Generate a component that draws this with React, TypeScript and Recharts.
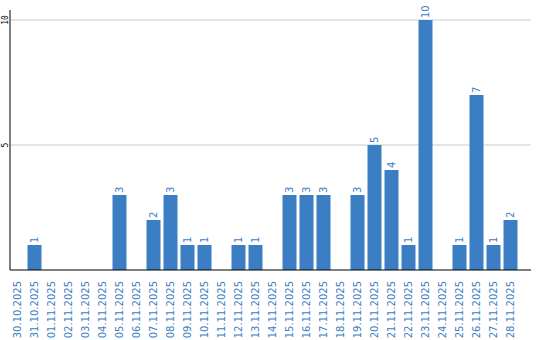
import { Bar, CartesianGrid, ComposedChart, LabelList, XAxis, YAxis } from 'recharts';

const dates = [
  '30.10.2025', '31.10.2025', '01.11.2025', '02.11.2025', '03.11.2025', '04.11.2025',
  '05.11.2025', '06.11.2025', '07.11.2025', '08.11.2025', '09.11.2025', '10.11.2025',
  '11.11.2025', '12.11.2025', '13.11.2025', '14.11.2025', '15.11.2025', '16.11.2025',
  '17.11.2025', '18.11.2025', '19.11.2025', '20.11.2025', '21.11.2025', '22.11.2025',
  '23.11.2025', '24.11.2025', '25.11.2025', '26.11.2025', '27.11.2025', '28.11.2025',
];
const counts = [0, 1, 0, 0, 0, 0, 3, 0, 2, 3, 1, 1, 0, 1, 1, 0, 3, 3, 3, 0, 3, 5, 4, 1, 10, 0, 1, 7, 1, 2];
const yTicks = [5, 10];

const BLUE = '#3b7ec4';
const FONT = '"DejaVu Sans", Verdana, sans-serif';

const data = dates.map((date, i) => ({ date, count: counts[i] }));

function DateTick({ x, y, payload }: any) {
  const ty = y + 3;
  return (
    <text
      x={x}
      y={ty}
      transform={`rotate(-90, ${x}, ${ty})`}
      textAnchor="end"
      dominantBaseline="central"
      fill={BLUE}
      fontSize={10}
      fontFamily={FONT}
    >
      {payload.value}
    </text>
  );
}

function CountTick({ y, payload }: any) {
  return (
    <text
      x={5}
      y={y}
      transform={`rotate(-90, 5, ${y})`}
      textAnchor="middle"
      dominantBaseline="central"
      fill="#000"
      fontSize={8}
      fontFamily='"DejaVu Sans Mono", monospace'
    >
      {payload.value}
    </text>
  );
}

function ValueLabel({ x, y, width, value }: any) {
  if (!value) return null;
  const cx = x + width / 2;
  const ty = y - 2;
  return (
    <text
      x={cx}
      y={ty}
      transform={`rotate(-90, ${cx}, ${ty})`}
      textAnchor="start"
      dominantBaseline="central"
      fill={BLUE}
      fontSize={10}
      fontFamily={FONT}
    >
      {value}
    </text>
  );
}

export default function App() {
  return (
    <div style={{ position: 'absolute', left: 0, top: 0, background: '#fff' }}>
      <ComposedChart width={540} height={340} data={data} margin={{ top: 10, right: 9, bottom: 0, left: 0 }}>
        <CartesianGrid vertical={false} stroke="#cccccc" horizontalValues={yTicks} />
        <XAxis
          dataKey="date"
          interval={0}
          height={70}
          tickLine={false}
          axisLine={{ stroke: '#000' }}
          tick={<DateTick />}
          padding={{ left: -1.5, right: 12.5 }}
        />
        <YAxis
          width={10}
          domain={[0, 10]}
          ticks={yTicks}
          padding={{ top: 10 }}
          tickLine={false}
          axisLine={{ stroke: '#000' }}
          tick={<CountTick />}
        />
        <Bar dataKey="count" fill={BLUE} barSize={14} isAnimationActive={false}>
          <LabelList dataKey="count" content={<ValueLabel />} />
        </Bar>
      </ComposedChart>
    </div>
  );
}
